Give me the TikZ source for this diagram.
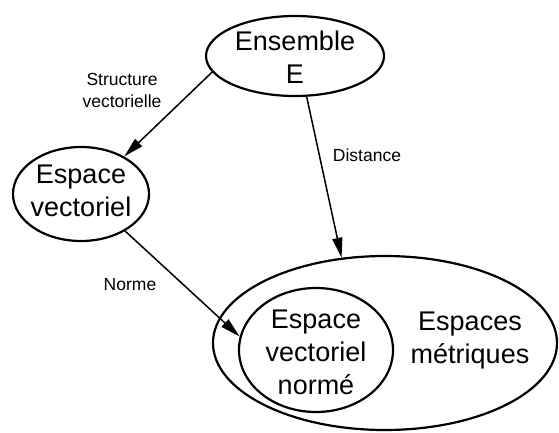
\documentclass[tikz,border=0pt]{standalone}
\usepackage{fontspec}
\setmainfont{Liberation Sans}
\usetikzlibrary{shapes.geometric,arrows.meta}

\tikzset{
	bulle/.style={draw, ellipse, line width=2.2pt, inner sep=0pt},
	grand/.style={font=\fontsize{27}{33}\selectfont, align=center, inner sep=0pt},
	petit/.style={font=\fontsize{17.5}{22}\selectfont, align=center, inner sep=0pt},
	fleche/.style={line width=1.5pt, -{Triangle[length=20pt,width=10pt]}}
}

\begin{document}
\begin{tikzpicture}[x=1pt,y=-1pt]

	\useasboundingbox (0,0) rectangle (559,432);

	% ---- ellipses

	\node[bulle, minimum width=178pt, minimum height=80pt] (E) at (295,56) {};
	\node[bulle, minimum width=136pt, minimum height=94pt] (V) at (81,194) {};
	\node[bulle, minimum width=344pt, minimum height=174pt] (M) at (385,343) {};
	\node[bulle, minimum width=154pt, minimum height=124pt] (N) at (316,350) {};

	% ---- texts

	\node[grand] (Et) at (295,57) {Ensemble\\E};
	\node[grand] (Vt) at (81,191) {Espace\\vectoriel};
	\node[grand] (Nt) at (316,352) {Espace\\vectoriel\\normé};
	\node[grand] (Mt) at (470,341) {Espaces\\métriques};

	% ---- arrows

	\draw[fleche] (E.191) -- (V.41);
	\draw[fleche] (E.286) -- (M.117);
	\draw[fleche] (V.320) -- (N.170);

	% ---- arrow labels

	\node[petit] (s) at (122,90) {Structure\\vectorielle};
	\node[petit] (d) at (367,155) {Distance};
	\node[petit] (n) at (130,285) {Norme};

\end{tikzpicture}
\end{document}
